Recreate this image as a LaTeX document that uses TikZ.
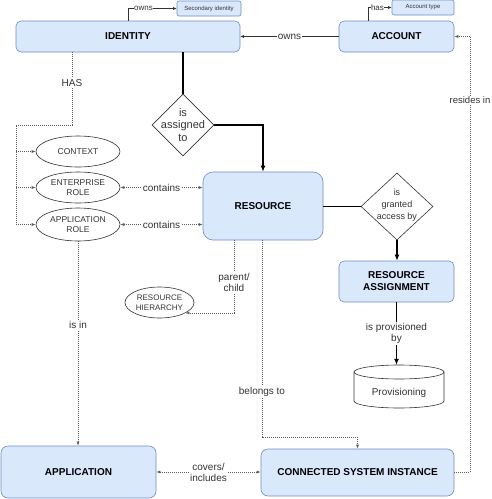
\documentclass[tikz,border=0pt]{standalone}
\usepackage{fontspec}
\setmainfont{Liberation Sans}
\usetikzlibrary{shapes.geometric,arrows.meta,calc}
\definecolor{boxfill}{HTML}{DAE8FC}
\definecolor{boxline}{HTML}{6C8EBF}
\definecolor{txt}{HTML}{333333}
\begin{document}
\begin{tikzpicture}[x=1pt,y=-1pt,
  box/.style={draw=boxline,fill=boxfill,rounded corners=5pt,line width=0.6pt,inner sep=0pt,font=\fontsize{10}{12}\selectfont\bfseries,align=center,text=black},
  smallbox/.style={box,rounded corners=2pt,font=\fontsize{6}{7}\selectfont,text=txt},
  oval/.style={draw=txt,ellipse,line width=0.6pt,inner sep=0pt,font=\fontsize{8.5}{10}\selectfont,align=center,text=txt},
  dia/.style={draw=txt,diamond,line width=0.6pt,inner sep=0pt},
  diatext/.style={font=\fontsize{10}{12}\selectfont,align=center,text=txt},
  lbl/.style={fill=white,inner sep=1pt,font=\fontsize{10}{11}\selectfont,align=center,text=txt},
  slbl/.style={fill=white,inner sep=0.5pt,font=\fontsize{8}{9}\selectfont,text=txt},
  dotline/.style={draw=txt!80,line width=0.6pt,dash pattern=on 1pt off 1pt},
  dtip/.style={-{Latex[length=4pt,width=3pt]}},
  bdtip/.style={{Latex[length=4pt,width=3pt]}-{Latex[length=4pt,width=3pt]}},
  thickline/.style={draw=black,line width=1.4pt},
  ttip/.style={-{Latex[length=6pt,width=5pt]}},
  thinline/.style={draw=txt,line width=0.6pt},
  stip/.style={-{Latex[length=3.5pt,width=3pt]}}
]
\useasboundingbox (0,0) rectangle (491,499);

% boxes
\node[box,minimum width=224pt,minimum height=31pt] (identity) at (128,36.5) {IDENTITY};
\node[smallbox,minimum width=64pt,minimum height=15pt] (secondary) at (209,8.5) {Secondary identity};
\node[box,minimum width=115pt,minimum height=31pt] (account) at (396.5,36.5) {ACCOUNT};
\node[smallbox,minimum width=62pt,minimum height=15pt] (accounttype) at (423,7.5) {Account type};
\node[box,rounded corners=10pt,minimum width=120pt,minimum height=68pt] (resource) at (263,206) {RESOURCE};
\node[box,minimum width=115pt,minimum height=41pt] (ra) at (396.5,281.5) {RESOURCE\\ASSIGNMENT};
\node[box,rounded corners=7pt,minimum width=155pt,minimum height=52pt] (application) at (78.5,472) {APPLICATION};
\node[box,rounded corners=7pt,minimum width=193pt,minimum height=47pt] (csi) at (357.5,472.5) {CONNECTED SYSTEM INSTANCE};

% ellipses
\node[oval,minimum width=84pt,minimum height=31pt] (context) at (78,151.5) {CONTEXT};
\node[oval,minimum width=84pt,minimum height=31pt] (ent) at (78,187.5) {ENTERPRISE\\ROLE};
\node[oval,minimum width=84pt,minimum height=33pt] (approle) at (78,224.5) {APPLICATION\\ROLE};
\node[oval,minimum width=69pt,minimum height=31pt,font=\fontsize{8}{9.5}\selectfont] (hier) at (159.5,302.5) {RESOURCE\\HIERARCHY};

% diamonds
\node[dia,minimum width=62pt,minimum height=62pt] (d1) at (183,125) {};
\node[diatext,font=\fontsize{11}{12.5}\selectfont] (d1t) at (183,125) {is\\assigned\\to};
\node[dia,minimum width=72pt,minimum height=67pt] (d2) at (397,206.5) {};
\node[diatext,font=\fontsize{9}{12}\selectfont] (d2t) at (397,205) {is\\granted\\access by};

% cylinder
\node[minimum width=90pt,minimum height=43pt,inner sep=0pt] (prov) at (399,386.5) {};
\draw[draw=txt,line width=0.6pt,fill=white] (354,372) -- (354,401) arc[start angle=180,end angle=0,x radius=45,y radius=7] -- (444,372);
\draw[draw=txt,line width=0.6pt,fill=white] (399,372) ellipse[x radius=45,y radius=7];
\node[font=\fontsize{10}{12}\selectfont,text=txt] (provt) at (399,393) {Provisioning};

% small owns / has
\draw[thinline,stip] (identity.north) |- node[slbl,pos=0.66] {owns} (secondary.west);
\draw[thinline,stip] ([xshift=-28.5pt]account.north) |- node[slbl,pos=0.7] {has} (accounttype.west);

% owns
\draw[thinline,stip] (account.west) -- node[lbl] {owns} (identity.east);

% HAS
\coordinate (hasturn) at (16,125);
\draw[dotline] ([xshift=-56pt]identity.south) |- node[lbl,pos=0.21] {HAS} (hasturn) -- (hasturn |- approle.west);
\draw[dotline,dtip] (hasturn |- context.west) -- (context.west);
\draw[dotline,dtip] (hasturn |- ent.west) -- (ent.west);
\draw[dotline,dtip] (hasturn |- approle.west) -- (approle.west);

% is assigned to
\draw[thickline] (identity.south -| d1.north) -- (d1.north);
\draw[thickline,ttip] (d1.east) -| (resource.north);

% contains
\draw[dotline,bdtip] (ent.east) -- node[lbl] {contains} (ent.east -| resource.west);
\draw[dotline,bdtip] (approle.east) -- node[lbl] {contains} (approle.east -| resource.west);

% granted access
\draw[thickline] (d2.west -| resource.east) -- (d2.west);
\draw[thickline,ttip] (d2.south) -- (d2.south |- ra.north);

% provisioned
\draw[thickline,ttip] (ra.south) -- node[lbl,pos=0.5] {is provisioned\\by} (ra.south |- prov.north);

% parent/child
\draw[dotline,dtip] ([xshift=-29pt]resource.south) |- node[lbl,pos=0.29] {parent/\\child} (hier.-22.5);

% belongs to
\coordinate (bt1) at (262,437);
\draw[dotline,dtip] (resource.south -| bt1) -- node[lbl,pos=0.77] {belongs to} (bt1) -| (csi.north);

% is in
\draw[dotline,dtip] (approle.south) -- node[lbl,pos=0.41] {is in} (approle.south |- application.north);

% covers
\draw[dotline,bdtip] (application.east) -- node[lbl] {covers/\\includes} (application.east -| csi.west);

% resides in
\coordinate (ri) at (470,100);
\draw[dotline,dtip] (csi.east) -| (ri) |- (account.east);
\node[lbl,font=\fontsize{9.5}{11}\selectfont] (rit) at (ri) {resides in};
\end{tikzpicture}
\end{document}
